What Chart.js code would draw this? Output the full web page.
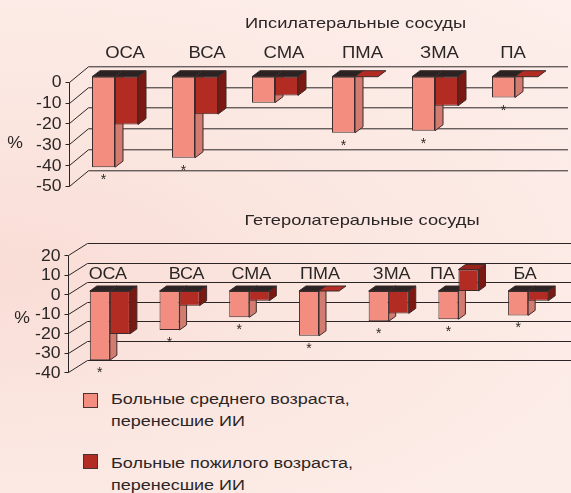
<!DOCTYPE html>
<html>
<head>
<meta charset="utf-8">
<script src="https://cdn.jsdelivr.net/npm/chart.js@4/dist/chart.umd.min.js"></script>
<style>
    html, body { margin: 0; padding: 0; }
    body {
        width: 571px; height: 493px; position: relative; overflow: hidden;
        background: radial-gradient(ellipse at 0% 55%, #F9DDD6 0%, #FBE7E1 45%, #FDEFEB 100%);
        font-family: "Liberation Sans", Arial, sans-serif; color: #2b2626;
    }
    canvas { position: absolute; left: 0; }
    .legend-item { position: absolute; left: 83px; }
    .legend-item .box {
        position: absolute; left: 0; width: 15px; height: 15px;
        box-sizing: border-box; border: 1px solid #4a3232;
    }
    .legend-item .txt {
        position: absolute; left: 28px; white-space: nowrap;
        font-size: 15.5px; line-height: 22px;
        transform: scaleX(1.16); transform-origin: 0 0;
    }
</style>
</head>
<body>
<canvas id="topChart" width="571" height="200" style="top:0"></canvas>
<canvas id="bottomChart" width="571" height="180" style="top:200px"></canvas>

<div class="legend-item" style="top:393px">
    <div class="box" style="top:0; background:#F38D7F"></div>
    <div class="txt" style="top:-5px">Больные среднего возраста,<br>перенесшие ИИ</div>
</div>
<div class="legend-item" style="top:454px">
    <div class="box" style="top:0; background:#B32C24"></div>
    <div class="txt" style="top:-2px">Больные пожилого возраста,<br>перенесшие ИИ</div>
</div>

<script>
// ==================== DATA ====================
const seriesNames = ['Больные среднего возраста, перенесшие ИИ', 'Больные пожилого возраста, перенесшие ИИ'];

// Ипсилатеральные сосуды
const ipsiTitle = 'Ипсилатеральные сосуды';
const ipsiCategories = ['ОСА', 'ВСА', 'СМА', 'ПМА', 'ЗМА', 'ПА'];
const ipsiMiddle = [-43.5, -39, -12.5, -27, -26, -10];
const ipsiElderly = [-23, -18, -9, 0, -14, 0];
const ipsiStars = [true, true, false, true, true, true];
const ipsiTicks = [0, -10, -20, -30, -40, -50];

// Гетеролатеральные сосуды
const heteroTitle = 'Гетеролатеральные сосуды';
const heteroCategories = ['ОСА', 'ВСА', 'СМА', 'ПМА', 'ЗМА', 'ПА', 'БА'];
const heteroMiddle = [-35.5, -20, -13.5, -23, -15.5, -14.5, -12.5];
const heteroElderly = [-22, -7.5, -5, 0, -11.5, 11, -5];
const heteroStars = [true, true, true, true, true, true, true];
const heteroTicks = [20, 10, 0, -10, -20, -30, -40];

// ==================== STYLE ====================
const COLORS = {
    middle: '#F38D7F', middleSide: '#D27B71',
    elderly: '#B32C24', elderlySide: '#7B1811',
    topDark: '#2B2323', topRaised: '#9A241C',
    edge: '#3D2B2B', grid: '#2B2525', text: '#2B2626'
};
const FONT = '"Liberation Sans", Arial, sans-serif';

function stretchText(ctx, txt, x, y, size, align, sx) {
    ctx.save();
    ctx.font = size + 'px ' + FONT;
    ctx.textAlign = align;
    ctx.textBaseline = 'alphabetic';
    ctx.fillStyle = COLORS.text;
    ctx.translate(x, y);
    ctx.scale(sx, 1);
    ctx.fillText(txt, 0, 0);
    ctx.restore();
}

function seg(ctx, x1, y1, x2, y2) {
    ctx.beginPath();
    ctx.moveTo(x1, y1);
    ctx.lineTo(x2, y2);
    ctx.stroke();
}

function poly(ctx, pts, fill) {
    ctx.beginPath();
    ctx.moveTo(pts[0][0], pts[0][1]);
    for (let i = 1; i < pts.length; i++) ctx.lineTo(pts[i][0], pts[i][1]);
    ctx.closePath();
    ctx.fillStyle = fill;
    ctx.fill();
    ctx.stroke();
}

// pseudo-3D frame, bar sides and all labels
function make3d(cfg) {
    return {
        id: 'frame3d',
        beforeDatasetsDraw(chart) {
            const ctx = chart.ctx;
            const ys = chart.scales.y;
            const fx = Math.round(chart.chartArea.left - cfg.frontInset) + 0.5;
            const bx = fx + cfg.wallDx;

            ctx.save();
            ctx.strokeStyle = COLORS.grid;
            ctx.lineWidth = 1;
            cfg.ticks.forEach(v => {
                const yf = Math.round(ys.getPixelForValue(v) + cfg.frontDy) + 0.5;
                const yb = yf - cfg.wallDy;
                seg(ctx, fx - 4, yf, fx, yf);
                seg(ctx, fx, yf, bx, yb);
                seg(ctx, bx, yb, cfg.gridRight, yb);
            });
            const yTop = Math.round(ys.getPixelForValue(cfg.ticks[0]) + cfg.frontDy) + 0.5;
            const yBot = Math.round(ys.getPixelForValue(cfg.ticks[cfg.ticks.length - 1]) + cfg.frontDy) + 0.5;
            seg(ctx, fx, yTop, fx, yBot);

            // side and top faces, behind the native front faces
            ctx.strokeStyle = COLORS.edge;
            const n = chart.data.labels.length;
            for (let i = 0; i < n; i++) {
                for (let d = 0; d < chart.data.datasets.length; d++) {
                    const bar = chart.getDatasetMeta(d).data[i];
                    const value = chart.data.datasets[d].data[i];
                    const l = bar.x - bar.width / 2, r = bar.x + bar.width / 2;
                    const top = Math.min(bar.y, bar.base), bot = Math.max(bar.y, bar.base);
                    const dx = cfg.barDx, dy = cfg.barDy;
                    const front = d === 0 ? COLORS.middle : COLORS.elderly;
                    const side = d === 0 ? COLORS.middleSide : COLORS.elderlySide;
                    if (bot - top > 0.5) {
                        poly(ctx, [[r, top], [r + dx, top - dy], [r + dx, bot - dy], [r, bot]], side);
                    }
                    let topColor = COLORS.topDark;
                    if (value > 0) topColor = COLORS.topRaised;
                    if (value === 0) topColor = front;
                    poly(ctx, [[l, top], [r, top], [r + dx, top - dy], [l + dx, top - dy]], topColor);
                }
            }
            ctx.restore();
        },
        afterDraw(chart) {
            const ctx = chart.ctx;
            const ys = chart.scales.y, xs = chart.scales.x;
            const fx = chart.chartArea.left - cfg.frontInset;

            stretchText(ctx, cfg.title, cfg.titleX, cfg.titleY, 14.5, 'center', 1.26);

            cfg.ticks.forEach(v => {
                const yf = ys.getPixelForValue(v) + cfg.frontDy;
                stretchText(ctx, String(v), fx - 7.5, yf + 5.6, 16, 'right', 1.1);
            });
            stretchText(ctx, '%', cfg.pctX, cfg.pctY, 16, 'center', 1.1);

            chart.data.labels.forEach((lab, i) => {
                const x = xs.getPixelForValue(i) + cfg.labelNudge[i];
                stretchText(ctx, lab, x, cfg.labelY, cfg.labelSize, 'center', 1.12);
            });

            const light = chart.getDatasetMeta(0).data;
            cfg.stars.forEach((s, i) => {
                if (!s) return;
                const bot = Math.max(light[i].y, light[i].base);
                stretchText(ctx, '*', light[i].x, bot + 17, 14, 'center', 1);
            });
        }
    };
}

function buildChart(id, cats, middle, elderly, yMin, yMax, padding, cfg) {
    return new Chart(document.getElementById(id), {
        type: 'bar',
        data: {
            labels: cats,
            datasets: [
                { label: seriesNames[0], data: middle, backgroundColor: COLORS.middle },
                { label: seriesNames[1], data: elderly, backgroundColor: COLORS.elderly }
            ]
        },
        options: {
            responsive: false,
            animation: false,
            events: [],
            layout: { padding: padding },
            datasets: {
                bar: {
                    categoryPercentage: 0.575, barPercentage: 1,
                    borderWidth: 1, borderColor: COLORS.edge, borderSkipped: false
                }
            },
            plugins: { legend: { display: false }, tooltip: { enabled: false } },
            scales: {
                x: { display: false, offset: true },
                y: { display: false, min: yMin, max: yMax }
            }
        },
        plugins: [make3d(cfg)]
    });
}

buildChart('topChart', ipsiCategories, ipsiMiddle, ipsiElderly, -50, 0,
    { left: 75, right: 16, top: 76.7, bottom: 19.3 },
    {
        ticks: ipsiTicks, stars: ipsiStars, title: ipsiTitle,
        titleX: 355.5, titleY: 27.7, pctX: 15, pctY: 148,
        labelY: 58.3, labelSize: 16.5, labelNudge: [10, 12, 9, 7.5, 4.5, -2],
        frontInset: 6, frontDy: 5, wallDx: 19, wallDy: 15.7,
        barDx: 8, barDy: 6, gridRight: 568
    });

buildChart('bottomChart', heteroCategories, heteroMiddle, heteroElderly, -40, 20,
    { left: 75, right: 8, top: 52, bottom: 11 },
    {
        ticks: heteroTicks, stars: heteroStars, title: heteroTitle,
        titleX: 362, titleY: 24.5, pctX: 22, pctY: 123,
        labelY: 79.3, labelSize: 16, labelNudge: [-2, 7, 2, 1, 3, -16, -3],
        frontInset: 7, frontDy: 3, wallDx: 19, wallDy: 12,
        barDx: 7, barDy: 5, gridRight: 571
    });
</script>
</body>
</html>
